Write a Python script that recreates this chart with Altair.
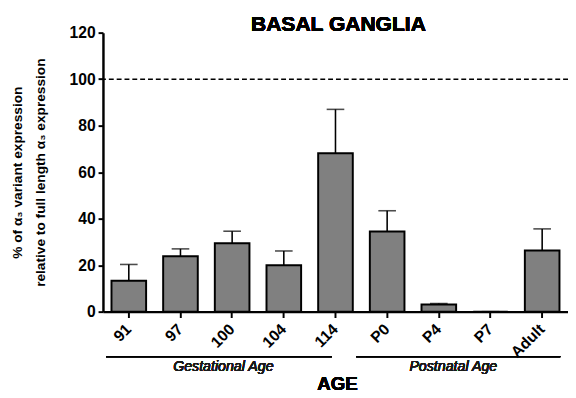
import altair as alt
import pandas as pd

ages = ["91", "97", "100", "104", "114", "P0", "P4", "P7", "Adult"]
means = [13.3, 23.8, 29.4, 20.0, 68.1, 34.5, 3.1, 0.0, 26.3]
upper = [20.3, 27.0, 34.6, 26.1, 87.0, 43.4, 3.5, 0.0, 35.6]

df = pd.DataFrame({"age": ages, "mean": means, "upper": upper})

W = 475
H = 285
STEP = W / len(ages)
FONT = "Liberation Sans"

xenc = alt.X(
    "age:N",
    sort=ages,
    scale=alt.Scale(paddingInner=0.33, paddingOuter=0.165),
    axis=alt.Axis(
        title=None,
        labelAngle=-45,
        labelAlign="right",
        labelBaseline="middle",
        labelFont=FONT,
        labelFontSize=16,
        labelFontWeight="bold",
        labelColor="black",
        labelPadding=9,
        tickSize=6,
        tickWidth=2,
        tickColor="black",
        domainColor="black",
        domainWidth=2.5,
        grid=False,
    ),
)
yscale = alt.Scale(domain=[0, 120], nice=False)
yenc = alt.Y(
    "mean:Q",
    scale=yscale,
    axis=alt.Axis(
        title=["% of α₃ variant expression", "relative to full length α₃ expression"],
        titleFont=FONT,
        titleFontSize=14,
        titleFontWeight="bold",
        titleColor="black",
        titleLineHeight=24,
        titlePadding=22,
        values=[0, 20, 40, 60, 80, 100, 120],
        labelFont=FONT,
        labelFontSize=16,
        labelFontWeight="bold",
        labelColor="black",
        labelPadding=3,
        tickSize=5,
        tickWidth=2,
        tickColor="black",
        domainColor="black",
        domainWidth=2.5,
        grid=False,
    ),
)

base = alt.Chart(df)
bars = base.mark_bar(color="#808080", stroke="black", strokeWidth=2).encode(x=xenc, y=yenc)
err = base.mark_rule(color="black", strokeWidth=1.6).encode(
    x=alt.X("age:N", sort=ages), y=alt.Y("mean:Q", scale=yscale), y2="upper:Q"
)
caps = base.mark_tick(color="black", orient="horizontal", size=18, thickness=1.6).encode(
    x=alt.X("age:N", sort=ages), y=alt.Y("upper:Q", scale=yscale)
)
ref = alt.Chart(pd.DataFrame({"ref": [100]})).mark_rule(
    color="black", strokeWidth=1.5, strokeDash=[5, 3]
).encode(y=alt.Y("ref:Q", scale=yscale))

LINE_Y = 331
gest_line = alt.Chart(df).mark_rule(color="black", strokeWidth=1.3).encode(
    x=alt.value(0.06 * STEP), x2=alt.value(4.43 * STEP), y=alt.value(LINE_Y)
)
post_line = alt.Chart(df).mark_rule(color="black", strokeWidth=1.3).encode(
    x=alt.value(4.9 * STEP), x2=alt.value(8.85 * STEP), y=alt.value(LINE_Y)
)
gest_txt = alt.Chart(df).mark_text(
    text="Gestational Age", font=FONT, fontSize=14.5, fontStyle="italic", color="#1a1a1a",
    baseline="middle",
).encode(x=alt.value(2.33 * STEP), y=alt.value(342))
post_txt = alt.Chart(df).mark_text(
    text="Postnatal Age", font=FONT, fontSize=14.5, fontStyle="italic", color="#1a1a1a",
    baseline="middle",
).encode(x=alt.value(6.78 * STEP), y=alt.value(342))
age_txt = alt.Chart(df).mark_text(
    text="AGE", font=FONT, fontSize=19, fontWeight="bold", color="black",
    baseline="alphabetic",
).encode(x=alt.value(W / 2 + 2), y=alt.value(365))
title_txt = alt.Chart(df).mark_text(
    text="BASAL GANGLIA", font=FONT, fontSize=21.5, fontWeight="bold", color="black",
    baseline="alphabetic",
).encode(x=alt.value(W / 2 + 3), y=alt.value(-2))

chart = (
    alt.layer(ref, bars, err, caps, gest_line, post_line, gest_txt, post_txt, age_txt, title_txt)
    .properties(
        width=W,
        height=H,
        autosize=alt.AutoSizeParams(type="none"),
        padding={"left": 97, "top": 21, "right": 0, "bottom": 83},
    )
    .configure_view(stroke=None)
)

chart.save("out.html", embed_options={"renderer": "svg", "actions": False})
